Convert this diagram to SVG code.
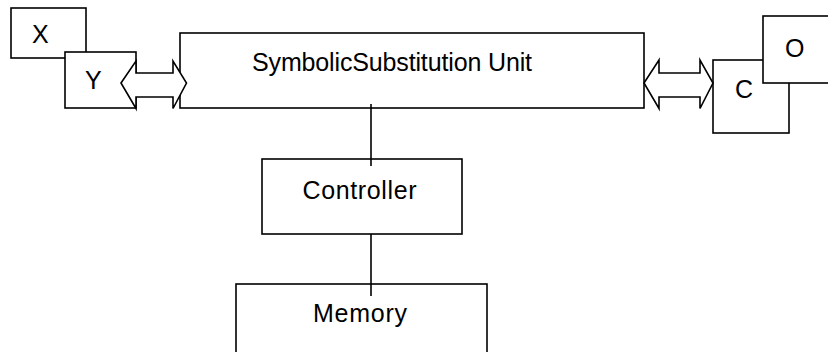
<svg xmlns="http://www.w3.org/2000/svg" width="828" height="352" viewBox="0 0 828 352">
<style>
.box{fill:#fff;stroke:#000;stroke-width:1.6}
.arr{fill:#fff;stroke:#000;stroke-width:1.6;stroke-linejoin:miter}
.ln{stroke:#000;stroke-width:1.6;fill:none}
text{font-family:"Liberation Sans",Arial,sans-serif;font-size:25px;fill:#000}
</style>
<rect width="828" height="352" fill="#fff"/>
<g id="X"><rect class="box" x="11" y="8" width="75" height="50"/><text x="32" y="43">X</text></g>
<g id="Y"><rect class="box" x="65" y="52" width="71" height="56"/><text x="85" y="89">Y</text></g>
<g id="ssu"><rect class="box" x="180" y="33" width="464" height="75"/><text x="252" y="71" textLength="280" lengthAdjust="spacing">SymbolicSubstitution Unit</text></g>
<g id="C"><rect class="box" x="713" y="60" width="76" height="73"/><text x="735" y="98">C</text></g>
<g id="O"><rect class="box" x="763" y="16" width="70" height="67"/><text x="785" y="57">O</text></g>
<g id="controller"><rect class="box" x="262" y="159" width="200" height="75"/><text x="302.5" y="199" textLength="114" lengthAdjust="spacing">Controller</text></g>
<g id="memory"><rect class="box" x="236" y="284" width="251" height="80"/><text x="313" y="322" textLength="94" lengthAdjust="spacing">Memory</text></g>
<g id="connectors">
<polygon class="arr" points="121,83 136,61 136,73 173,73 173,61 186.5,83 173,108.5 173,97 136,97 136,108.5"/>
<polygon class="arr" points="644,83 659,60 659,73 700,73 700,60 713,83 700,108.5 700,97 659,97 659,108.5"/>
<line class="ln" x1="371" y1="104" x2="371" y2="166"/>
<line class="ln" x1="371" y1="234" x2="371" y2="296"/>
</g>
</svg>
